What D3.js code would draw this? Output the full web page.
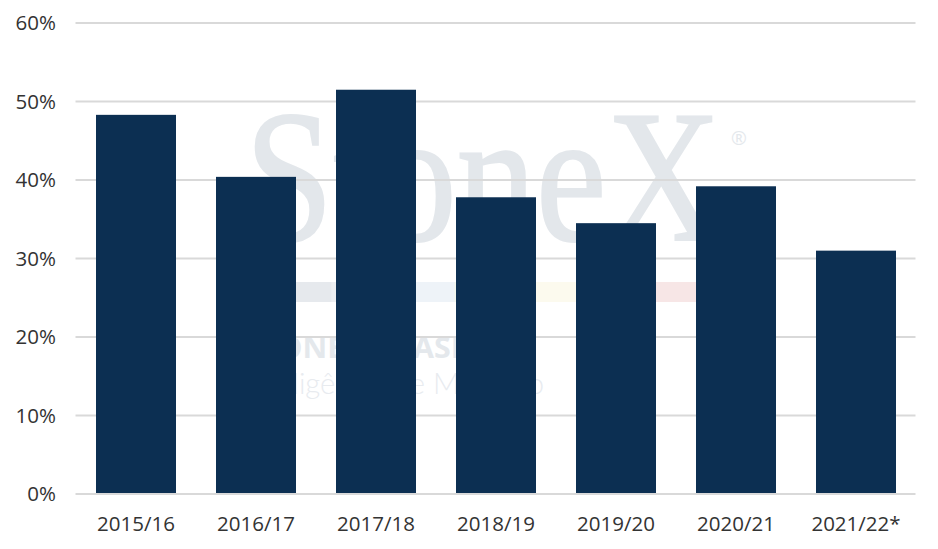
<!DOCTYPE html>
<html>
<head>
<meta charset="utf-8">
<script src="https://cdn.jsdelivr.net/npm/d3@7"></script>
<style>
  html, body { margin: 0; padding: 0; background: #fff; }
  svg { display: block; font-family: "Open Sans", sans-serif; }
</style>
</head>
<body>
<div id="chart"></div>
<script>
// safras e participação (%)
const seasons = ['2015/16', '2016/17', '2017/18', '2018/19', '2019/20', '2020/21', '2021/22*'];
const shares = [0.483, 0.404, 0.515, 0.378, 0.345, 0.392, 0.310];
const yTicks = [0, 0.1, 0.2, 0.3, 0.4, 0.5, 0.6];

// faixa colorida da marca d'água
const stripColors = ['#e6e9ed', '#eceef1', '#eef3f8', '#f1f6ee', '#fcfaee', '#fdf3e6', '#f7e6e6'];

function drawBars(container) {
    const w = 938;
    const h = 549;
    const top = 23, bottom = 494, left = 76, right = 916;

    const svg = d3.select(container)
        .append('svg')
        .attr('width', w)
        .attr('height', h);

    const x = d3.scaleBand()
        .domain(seasons)
        .range([left, right])
        .paddingInner(1/3)
        .paddingOuter(1/6);

    const y = d3.scaleLinear()
        .domain([0, 0.6])
        .range([bottom, top]);

    // marca d'água (fica atrás de tudo)
    const wm = svg.append('g').attr('class', 'watermark');
    const logo = wm.append('text')
        .style('font-family', '"Liberation Serif", serif')
        .style('font-size', '188px')
        .attr('fill', '#e3e7eb')
        .attr('stroke', '#e3e7eb')
        .attr('stroke-width', 2)
        .text('StoneX');
    // encolhe na horizontal para caber entre 245 e ~721
    const natural = logo.node().getComputedTextLength();
    logo.attr('transform', `translate(245,240) scale(${476 / natural},1)`);

    wm.append('text')
        .attr('x', 731).attr('y', 145)
        .style('font-size', '19px')
        .attr('fill', '#e4e8ec')
        .text('®');
    const stripX = d3.scaleBand().domain(d3.range(stripColors.length)).range([270, 700]);
    wm.selectAll('rect')
        .data(stripColors)
        .enter()
        .append('rect')
        .attr('x', (d, i) => stripX(i))
        .attr('y', 282)
        .attr('width', stripX.bandwidth() + 0.5)
        .attr('height', 20)
        .attr('fill', d => d);
    wm.append('text')
        .attr('x', 244).attr('y', 358)
        .attr('textLength', 234)
        .attr('lengthAdjust', 'spacingAndGlyphs')
        .style('font-size', '28px')
        .style('font-weight', 700)
        .attr('fill', '#e4e8ec')
        .text('STONEX BRASIL');
    wm.append('text')
        .attr('x', 244).attr('y', 394)
        .attr('textLength', 300)
        .attr('lengthAdjust', 'spacingAndGlyphs')
        .style('font-family', 'Lato, sans-serif')
        .style('font-size', '30px')
        .style('font-weight', 300)
        .attr('fill', '#e8ebef')
        .text('Inteligência de Mercado');

    // grade horizontal
    svg.append('g')
        .selectAll('line')
        .data(yTicks)
        .enter()
        .append('line')
        .attr('x1', left - 0.5)
        .attr('x2', right - 0.5)
        .attr('y1', d => y(d))
        .attr('y2', d => y(d))
        .attr('stroke', '#d9d9d9')
        .attr('stroke-width', 2);

    // rótulos do eixo y
    svg.append('g')
        .selectAll('text')
        .data(yTicks)
        .enter()
        .append('text')
        .attr('x', 56)
        .attr('y', d => y(d))
        .attr('dy', '0.36em')
        .attr('text-anchor', 'end')
        .attr('fill', '#333')
        .style('font-size', '20.5px')
        .text(d3.format('.0%'));

    // barras
    svg.append('g')
        .selectAll('rect')
        .data(shares)
        .enter()
        .append('rect')
        .attr('x', (d, i) => x(seasons[i]))
        .attr('y', d => y(d))
        .attr('width', x.bandwidth())
        .attr('height', d => y(0) - y(d) - 1)
        .attr('fill', '#0c2f52');

    // rótulos do eixo x
    svg.append('g')
        .selectAll('text')
        .data(seasons)
        .enter()
        .append('text')
        .attr('x', d => x(d) + x.bandwidth() / 2)
        .attr('y', 531)
        .attr('text-anchor', 'middle')
        .attr('fill', '#333')
        .style('font-size', '20.5px')
        .text(d => d);
}

drawBars(document.getElementById('chart'));
</script>
</body>
</html>
